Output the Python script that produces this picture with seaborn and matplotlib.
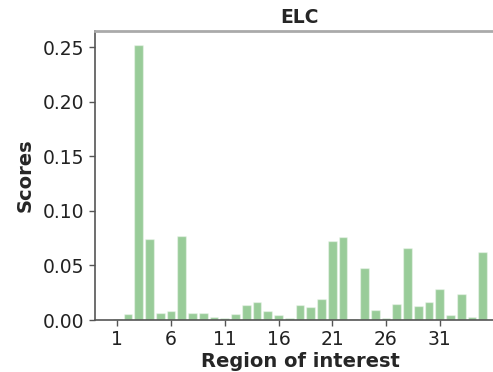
import pandas as pd
import matplotlib
matplotlib.use("Agg")
import matplotlib.pyplot as plt
import seaborn as sns

# Regions 1..35 and their scores
regions = list(range(1, 36))
scores = [0.001, 0.0055, 0.252, 0.074, 0.0066, 0.0087, 0.0767, 0.0066, 0.0066, 0.0032,
          0.0017, 0.0057, 0.0139, 0.0163, 0.008, 0.005, 0.0017, 0.014, 0.012, 0.0195,
          0.072, 0.0757, 0.0005, 0.0473, 0.0089, 0.0015, 0.015, 0.066, 0.013, 0.0165,
          0.0284, 0.0043, 0.0238, 0.003, 0.0625]
tick_labels = [1, 6, 11, 16, 21, 26, 31]
title = "ELC"

df = pd.DataFrame({"region": regions, "score": scores})

sns.set_style("white")
plt.rcParams["font.family"] = ["DejaVu Sans"]

fig = plt.figure(figsize=(4.93, 3.72), dpi=100)
# axes run past the right edge like the cropped original
ax = fig.add_axes([95 / 493, 52 / 372, 410 / 493, 289 / 372])

sns.barplot(data=df, x="region", y="score", color="green", alpha=0.4,
            width=0.8, saturation=1, ax=ax)

ax.set_xlim(-2.07, 36.07)
ax.set_ylim(0, 0.2647)
ax.set_xticks([t - 1 for t in tick_labels])
ax.set_xticklabels([str(t) for t in tick_labels])
ax.set_yticks([0, 0.05, 0.10, 0.15, 0.20, 0.25])
ax.set_yticklabels(["0.00", "0.05", "0.10", "0.15", "0.20", "0.25"])
ax.tick_params(axis="both", labelsize=13.5, length=4, width=1, colors="#555555",
               labelcolor="#222222", direction="out", bottom=True, left=True)

for side in ["left", "bottom"]:
    ax.spines[side].set_color("#555555")
    ax.spines[side].set_linewidth(1.2)
ax.spines["top"].set_color("#aaaaaa")
ax.spines["top"].set_linewidth(2)
ax.spines["right"].set_visible(False)

ax.set_xlabel("Region of interest", fontsize=14, fontweight="bold", labelpad=2)
ax.set_ylabel("Scores", fontsize=14, fontweight="bold", labelpad=6)
ax.set_title(title, fontsize=13.5, fontweight="bold", pad=6)

fig.savefig("out.png", dpi=100)
